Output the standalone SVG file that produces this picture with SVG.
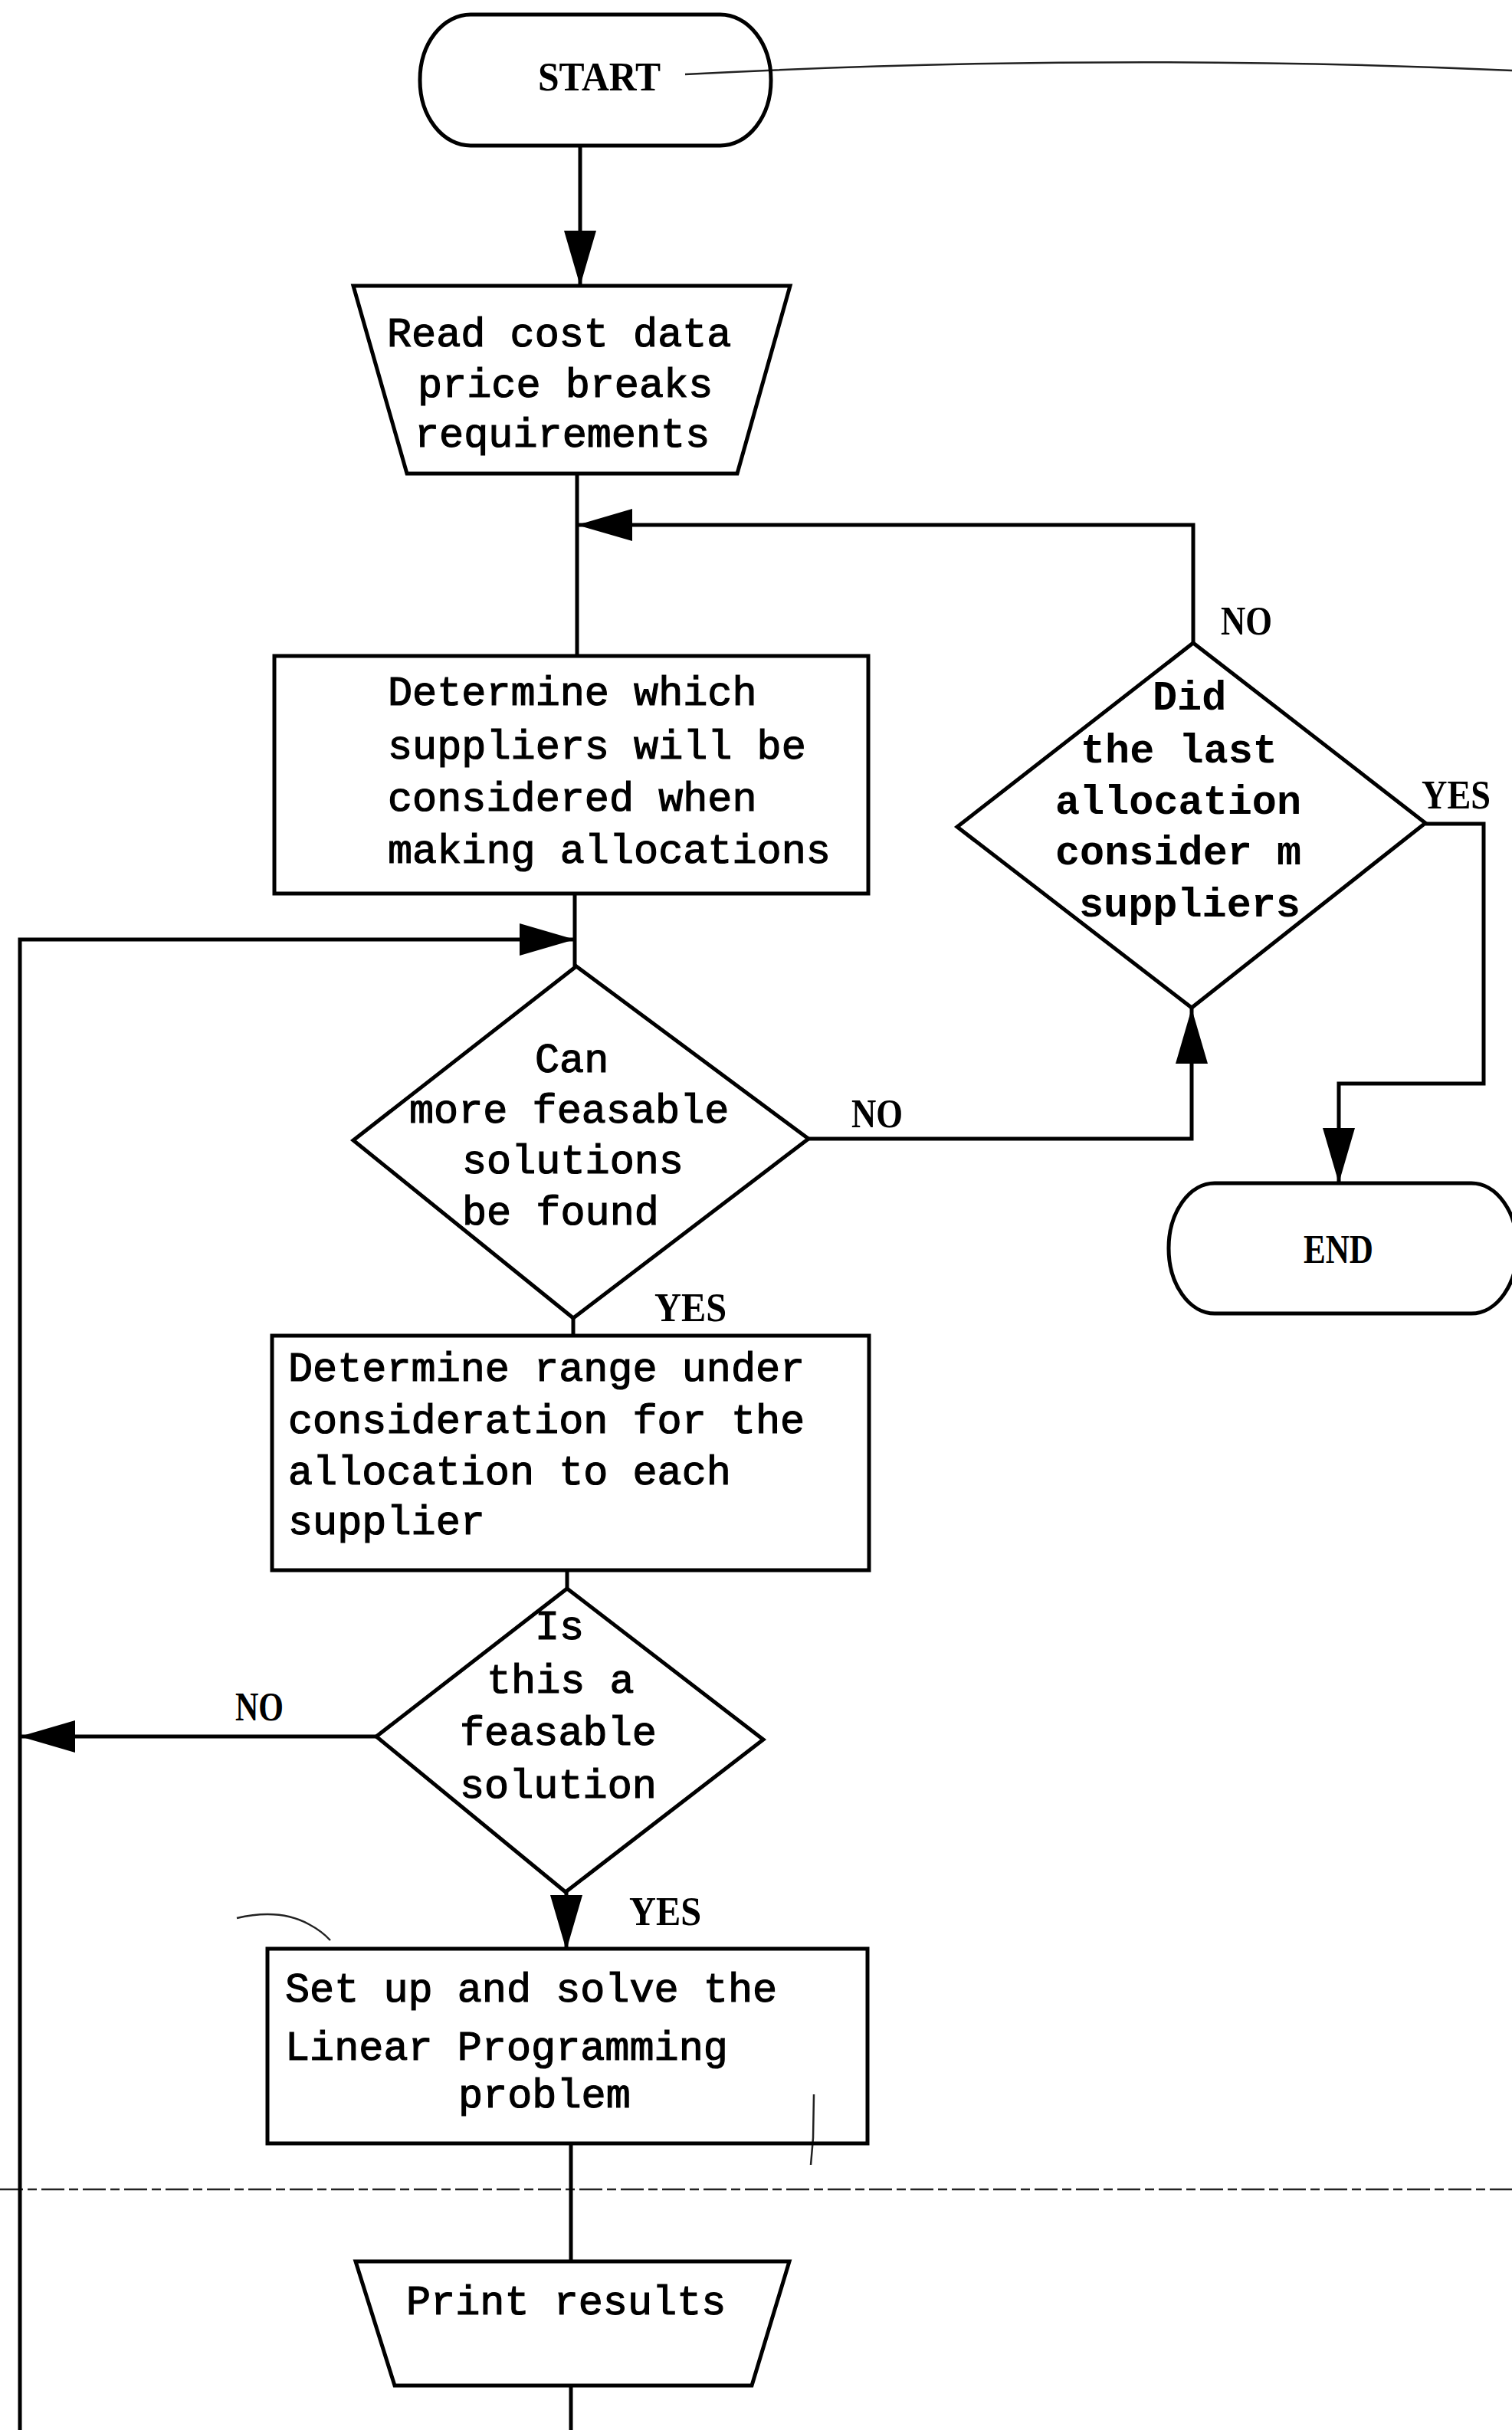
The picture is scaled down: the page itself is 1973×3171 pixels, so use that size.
<svg xmlns="http://www.w3.org/2000/svg" width="1973" height="3171" viewBox="0 0 1973 3171">
<style>
.shape{fill:none;stroke:#000;stroke-width:5;stroke-linejoin:miter}
.conn{fill:none;stroke:#000;stroke-width:5}
.tw{font-family:"Liberation Mono","Courier New",monospace;font-size:53.5px;fill:#000;stroke:#000;stroke-width:1.2}
.twb{font-family:"Liberation Mono","Courier New",monospace;font-size:53.5px;font-weight:bold;fill:#000}
.lbl{font-family:"Liberation Serif","Times New Roman",serif;font-size:52px;font-weight:bold;fill:#000}
.art{fill:none;stroke:#222;stroke-width:2.5}
</style>
<defs>
<marker id="ah" markerUnits="userSpaceOnUse" markerWidth="74" markerHeight="44" refX="72" refY="22" orient="auto">
<path d="M0,1 L72,22 L0,43 z" fill="#000"/>
</marker>
</defs>
<rect width="1973" height="3171" fill="#fff"/>

<g id="artifacts">
<path class="art" d="M894,97 Q1450,68 1973,92"/>
<path class="art" d="M0,2857 L1973,2857" stroke-dasharray="30 6 12 6" stroke-width="2" stroke="#555"/>
<path class="art" d="M1062,2733 L1061,2790 L1058,2825"/>
<path class="art" d="M309,2503 Q365,2490 403,2511 Q420,2520 431,2532"/>
</g>

<g id="connectors">
<path class="conn" d="M757,190 L757,373" marker-end="url(#ah)"/>
<path class="conn" d="M753,618 L753,856"/>
<path class="conn" d="M1557,839 L1557,685 L753,685" marker-end="url(#ah)"/>
<path class="conn" d="M750,1166 L750,1261"/>
<path class="conn" d="M26,3171 L26,1226 L750,1226" marker-end="url(#ah)"/>
<path class="conn" d="M1055,1486 L1555,1486 L1555,1316" marker-end="url(#ah)"/>
<path class="conn" d="M1860,1075 L1936,1075 L1936,1414 L1747,1414 L1747,1544" marker-end="url(#ah)"/>
<path class="conn" d="M748,1720 L748,1743"/>
<path class="conn" d="M740,2049 L740,2073"/>
<path class="conn" d="M491,2266 L26,2266" marker-end="url(#ah)"/>
<path class="conn" d="M739,2469 L739,2545" marker-end="url(#ah)"/>
<path class="conn" d="M745,2797 L745,2951"/>
<path class="conn" d="M745,3113 L745,3171"/>
<text class="lbl" x="1593" y="828" textLength="67" lengthAdjust="spacingAndGlyphs">NO</text>
<text class="lbl" x="1855" y="1055" textLength="90" lengthAdjust="spacingAndGlyphs">YES</text>
<text class="lbl" x="1111" y="1471" textLength="67" lengthAdjust="spacingAndGlyphs">NO</text>
<text class="lbl" x="854" y="1724" textLength="94" lengthAdjust="spacingAndGlyphs">YES</text>
<text class="lbl" x="307" y="2245" textLength="63" lengthAdjust="spacingAndGlyphs">NO</text>
<text class="lbl" x="821" y="2512" textLength="94" lengthAdjust="spacingAndGlyphs">YES</text>
</g>

<g id="start">
<rect class="shape" x="548" y="19" width="458" height="171" rx="66" ry="85"/>
<text class="lbl" x="702" y="118" textLength="160" lengthAdjust="spacingAndGlyphs">START</text>
</g>

<g id="read-data">
<polygon class="shape" points="461,373 1031,373 962,618 531,618"/>
<text class="tw" x="505" y="452">Read cost data</text>
<text class="tw" x="545" y="518">price breaks</text>
<text class="tw" x="541" y="583">requirements</text>
</g>

<g id="determine-suppliers">
<rect class="shape" x="358" y="856" width="775" height="310"/>
<text class="tw" x="506" y="920">Determine which</text>
<text class="tw" x="506" y="990">suppliers will be</text>
<text class="tw" x="506" y="1058">considered when</text>
<text class="tw" x="506" y="1126">making allocations</text>
</g>

<g id="more-solutions">
<polygon class="shape" points="752,1261 1055,1486 748,1720 461,1488"/>
<text class="tw" x="698" y="1399">Can</text>
<text class="tw" x="534" y="1465">more feasable</text>
<text class="tw" x="603" y="1531">solutions</text>
<text class="tw" x="603" y="1598">be found</text>
</g>

<g id="last-allocation">
<polygon class="shape" points="1557,839 1860,1074 1555,1315 1249,1079"/>
<text class="twb" x="1504" y="926">Did</text>
<text class="twb" x="1410" y="995">the last</text>
<text class="twb" x="1377" y="1062">allocation</text>
<text class="twb" x="1377" y="1128">consider m</text>
<text class="twb" x="1408" y="1196">suppliers</text>
</g>

<g id="end">
<rect class="shape" x="1525" y="1544" width="455" height="170" rx="60" ry="85"/>
<text class="lbl" x="1701" y="1648" textLength="91" lengthAdjust="spacingAndGlyphs">END</text>
</g>

<g id="determine-range">
<rect class="shape" x="355" y="1743" width="779" height="306"/>
<text class="tw" x="376" y="1802">Determine range under</text>
<text class="tw" x="376" y="1870">consideration for the</text>
<text class="tw" x="376" y="1937">allocation to each</text>
<text class="tw" x="376" y="2002">supplier</text>
</g>

<g id="feasible-check">
<polygon class="shape" points="740,2073 996,2270 738,2469 491,2266"/>
<text class="tw" x="698" y="2139">Is</text>
<text class="tw" x="635" y="2209">this a</text>
<text class="tw" x="600" y="2277">feasable</text>
<text class="tw" x="600" y="2346">solution</text>
</g>

<g id="solve-lp">
<rect class="shape" x="349" y="2543" width="783" height="254"/>
<text class="tw" x="372" y="2612">Set up and solve the</text>
<text class="tw" x="372" y="2688">Linear Programming</text>
<text class="tw" x="598" y="2750">problem</text>
</g>

<g id="print-results">
<polygon class="shape" points="464,2951 1030,2951 981,3113 515,3113"/>
<text class="tw" x="530" y="3020">Print results</text>
</g>
</svg>
